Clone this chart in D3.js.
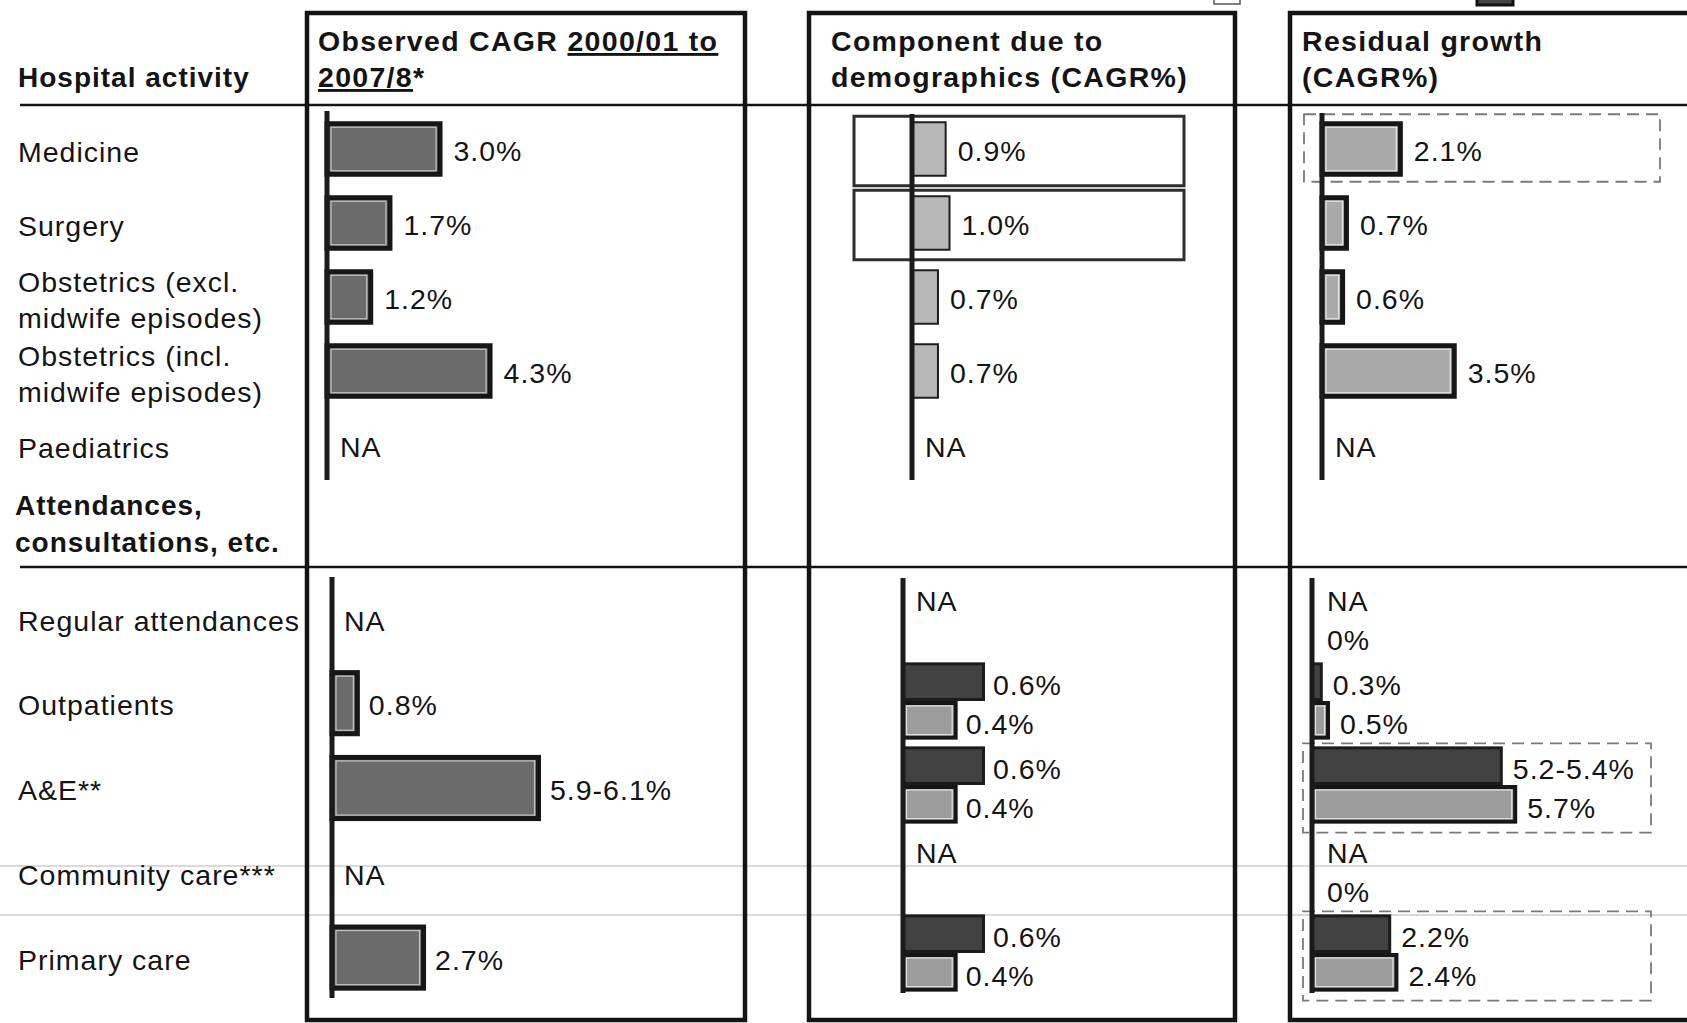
<!DOCTYPE html>
<html>
<head>
<meta charset="utf-8">
<script src="https://cdn.jsdelivr.net/npm/d3@7"></script>
<style>
  html, body { margin: 0; padding: 0; background: #fff; }
  svg { display: block; }
  text { font-family: "Liberation Sans", Arial, sans-serif; fill: #141414; letter-spacing: 1px; }
</style>
</head>
<body>
<svg id="chart" width="1687" height="1023"></svg>
<script>
// ---- Categories -------------------------------------------------------
const hospitalRows = [
  ["Medicine"],
  ["Surgery"],
  ["Obstetrics (excl.", "midwife episodes)"],
  ["Obstetrics (incl.", "midwife episodes)"],
  ["Paediatrics"]
];
const attendanceHeading = ["Attendances,", "consultations, etc."];
const attendanceRows = ["Regular attendances", "Outpatients", "A&E**", "Community care***", "Primary care"];

// ---- Column headings --------------------------------------------------
const rowHeading = "Hospital activity";
const observedTitle = [["Observed CAGR ", "2000/01 to"], ["2007/8", "*"]]; // [plain, underlined] / [underlined, plain]
const demographicTitle = ["Component due to", "demographics (CAGR%)"];
const residualTitle = ["Residual growth", "(CAGR%)"];

// ---- Values (CAGR, %) — null = not available, [lo, hi] = range --------
const observedHospital    = [3.0, 1.7, 1.2, 4.3, null];
const demographicHospital = [0.9, 1.0, 0.7, 0.7, null];
const residualHospital    = [2.1, 0.7, 0.6, 3.5, null];

const observedAttendance     = [null, 0.8, [5.9, 6.1], null, 2.7];
const demographicAttendanceA = [null, 0.6, 0.6, null, 0.6];
const demographicAttendanceB = [null, 0.4, 0.4, null, 0.4];
const residualAttendanceA    = [null, 0.3, [5.2, 5.4], null, 2.2];
const residualAttendanceB    = [0, 0.5, 5.7, 0, 2.4];

// Rows singled out with a frame
const demographicHospitalFramed = [0, 1];
const residualHospitalFramed    = [0];
const residualAttendanceFramed  = [2, 4];

// ---- Helpers ----------------------------------------------------------
const svg = d3.select("#chart");
const FS = 28.5;

const val = v => Array.isArray(v) ? d3.mean(v) : v;
const fmt = v => {
  if (v === null) return "NA";
  if (Array.isArray(v)) return v[0].toFixed(1) + "-" + v[1].toFixed(1) + "%";
  if (v === 0) return "0%";
  return v.toFixed(1) + "%";
};

const barStyles = {
  mid:   { fill: "#6b6b6b", stroke: "#161616", sw: 5, inner: "#c4c4c4" },
  pale:  { fill: "#b7b7b7", stroke: "#1e1e1e", sw: 2, inner: null },
  soft:  { fill: "#a9a9a9", stroke: "#161616", sw: 5, inner: "#e4e4e4" },
  dark:  { fill: "#424242", stroke: "#1c1c1c", sw: 3, inner: null },
  light: { fill: "#9c9c9c", stroke: "#161616", sw: 4, inner: "#e0e0e0" }
};

// One block of horizontal bars hanging off a vertical baseline
function drawSection(o) {
  const g = svg.append("g").attr("transform", `translate(${o.x0},0)`);
  const y = d3.scaleBand().domain(d3.range(o.n)).range(o.yRange)
    .paddingInner(o.padInner).paddingOuter(o.padOuter);
  const x = d3.scaleLinear().domain([0, o.xMax]).range([0, o.xWidth]);
  const sub = d3.scaleBand().domain(d3.range(o.series.length)).range([0, y.bandwidth()]);

  // framed rows
  (o.frames || []).forEach(f => {
    g.selectAll(null).data(f.rows).join("rect")
      .attr("x", f.x0).attr("width", f.x1 - f.x0)
      .attr("y", i => y(i) + f.top)
      .attr("height", y.bandwidth() + f.extra)
      .attr("fill", "none")
      .attr("stroke", f.color).attr("stroke-width", f.sw)
      .attr("stroke-dasharray", f.dash || null);
  });

  o.series.forEach((s, si) => {
    const st = barStyles[s.style];
    const data = s.values.map((v, i) => ({ i, v }));
    const withBar = data.filter(d => d.v !== null && val(d.v) > 0);
    const top = d => y(d.i) + sub(si);

    g.selectAll(null).data(withBar).join("rect")
      .attr("x", 0)
      .attr("y", d => top(d) + st.sw / 2)
      .attr("width", d => Math.max(1, x(val(d.v)) - st.sw / 2))
      .attr("height", sub.bandwidth() - st.sw)
      .attr("fill", st.fill)
      .attr("stroke", st.stroke).attr("stroke-width", st.sw);

    if (st.inner) {
      g.selectAll(null).data(withBar.filter(d => x(val(d.v)) > 12)).join("rect")
        .attr("x", st.sw / 2 + 1.5)
        .attr("y", d => top(d) + st.sw + 1)
        .attr("width", d => Math.max(0, x(val(d.v)) - st.sw * 1.5 - 3))
        .attr("height", sub.bandwidth() - st.sw * 2 - 2)
        .attr("fill", "none")
        .attr("stroke", st.inner).attr("stroke-width", 1.2);
    }

    const labelled = data.filter(d => d.v !== null || s.showNA);
    g.selectAll(null).data(labelled).join("text")
      .attr("x", d => d.v === null || val(d.v) === 0 ? o.naGap : x(val(d.v)) + o.labelGap)
      .attr("y", d => top(d) + sub.bandwidth() / 2 + (o.labelShift || 0))
      .attr("dy", "0.36em")
      .attr("font-size", FS)
      .text(d => fmt(d.v));
  });

  // baseline drawn on top of the bar ends
  const axis = g.append("g").call(d3.axisLeft(y).tickSize(0).tickSizeOuter(0).tickFormat(""));
  axis.select(".domain").attr("stroke", "#1b1b1b").attr("stroke-width", o.axisWidth || 5)
    .attr("d", `M0,${o.axisRange[0]}V${o.axisRange[1]}`);
  return y;
}

// ---- Frame: column boxes and rules -----------------------------------
// faint horizontal rules across the lower block
[866, 915].forEach(yy => svg.append("line")
  .attr("x1", 0).attr("x2", 1687).attr("y1", yy).attr("y2", yy)
  .attr("stroke", "#dadada").attr("stroke-width", 2));

const boxes = [[307, 745], [809, 1235], [1290, 1710]];
svg.selectAll("rect.box").data(boxes).join("rect")
  .attr("class", "box")
  .attr("x", d => d[0]).attr("y", 13)
  .attr("width", d => d[1] - d[0]).attr("height", 1007)
  .attr("fill", "none").attr("stroke", "#141414").attr("stroke-width", 4.5);

[105, 567].forEach(yy => svg.append("line")
  .attr("x1", 20).attr("x2", 1687).attr("y1", yy).attr("y2", yy)
  .attr("stroke", "#141414").attr("stroke-width", 2.5));

// legend swatches along the top edge
svg.append("rect").attr("x", 1214).attr("y", -14).attr("width", 26).attr("height", 18)
  .attr("fill", "#fff").attr("stroke", "#555").attr("stroke-width", 1.5);
svg.append("rect").attr("x", 1477).attr("y", -12).attr("width", 36).attr("height", 17)
  .attr("fill", "#444").attr("stroke", "#111").attr("stroke-width", 3);

// ---- Headings ---------------------------------------------------------
const bold = (sel, size, ls) => sel.attr("font-size", size).attr("font-weight", "bold")
  .style("letter-spacing", ls + "px");

bold(svg.append("text").attr("x", 18).attr("y", 87), 28, 1).text(rowHeading);

const t1 = bold(svg.append("text").attr("x", 318).attr("y", 51), 28.5, 1.3);
t1.append("tspan").text(observedTitle[0][0]);
t1.append("tspan").style("text-decoration", "underline").text(observedTitle[0][1]);
const t2 = bold(svg.append("text").attr("x", 318).attr("y", 87), 28.5, 1.3);
t2.append("tspan").style("text-decoration", "underline").text(observedTitle[1][0]);
t2.append("tspan").text(observedTitle[1][1]);

[[831, demographicTitle], [1302, residualTitle]].forEach(([xx, lines]) => {
  lines.forEach((line, li) => bold(svg.append("text").attr("x", xx).attr("y", 51 + li * 36), 28.5, 1.3).text(line));
});

// ---- Upper block: hospital activity ----------------------------------
const upper = { n: 5, yRange: [112, 482], padInner: 0.25, padOuter: 0.125, xMax: 5, xWidth: 192.5,
  labelGap: 11, naGap: 13, labelShift: 2 };

const yUpper = drawSection(Object.assign({}, upper, {
  x0: 327, axisRange: [111, 480],
  series: [{ values: observedHospital, style: "mid", showNA: true }]
}));

drawSection(Object.assign({}, upper, {
  x0: 912, axisRange: [114, 480],
  series: [{ values: demographicHospital, style: "pale", showNA: true }],
  frames: [{ rows: demographicHospitalFramed, x0: -58, x1: 272, top: -5, extra: 14, color: "#2e2e2e", sw: 3 }]
}));

drawSection(Object.assign({}, upper, {
  x0: 1322, axisRange: [113, 480],
  series: [{ values: residualHospital, style: "soft", showNA: true }],
  frames: [{ rows: residualHospitalFramed, x0: -18, x1: 338, top: -7, extra: 12, color: "#7a7a7a", sw: 1.8, dash: "12,7" }]
}));

// row labels
hospitalRows.forEach((lines, i) => {
  const c = yUpper(i) + yUpper.bandwidth() / 2 + 3;
  lines.forEach((line, li) => {
    svg.append("text").attr("x", 18)
      .attr("y", c + (li - (lines.length - 1) / 2) * 36)
      .attr("dy", "0.36em").attr("font-size", FS).text(line);
  });
});
attendanceHeading.forEach((line, li) =>
  bold(svg.append("text").attr("x", 15).attr("y", 505 + li * 37).attr("dy", "0.36em"), 28, 1).text(line));

// ---- Lower block: attendances, consultations -------------------------
const yLower = drawSection({
  n: 5, yRange: [576, 1000], padInner: 0.22, padOuter: 0.11, xMax: 6, xWidth: 209,
  labelGap: 9, naGap: 12, labelShift: 2,
  x0: 332, axisRange: [577, 998],
  series: [{ values: observedAttendance, style: "mid", showNA: true }]
});

const lowerPair = { n: 5, yRange: [575, 995], padInner: 0.08, padOuter: 0.04, labelGap: 8, naGap: 13, labelShift: 3 };

drawSection(Object.assign({}, lowerPair, {
  x0: 903, axisRange: [578, 993], xMax: 0.6, xWidth: 82,
  series: [
    { values: demographicAttendanceA, style: "dark", showNA: true },
    { values: demographicAttendanceB, style: "light", showNA: false }
  ]
}));

drawSection(Object.assign({}, lowerPair, {
  x0: 1312, axisRange: [578, 993], xMax: 6, xWidth: 216, naGap: 15, labelGap: 10,
  series: [
    { values: residualAttendanceA, style: "dark", showNA: true },
    { values: residualAttendanceB, style: "light", showNA: false }
  ],
  frames: [{ rows: residualAttendanceFramed, x0: -9, x1: 339, top: -3, extra: 12, color: "#7a7a7a", sw: 1.8, dash: "12,7" }]
}));

attendanceRows.forEach((name, i) => {
  svg.append("text").attr("x", 18)
    .attr("y", yLower(i) + yLower.bandwidth() / 2 + 2)
    .attr("dy", "0.36em").attr("font-size", FS).text(name);
});
</script>
</body>
</html>
